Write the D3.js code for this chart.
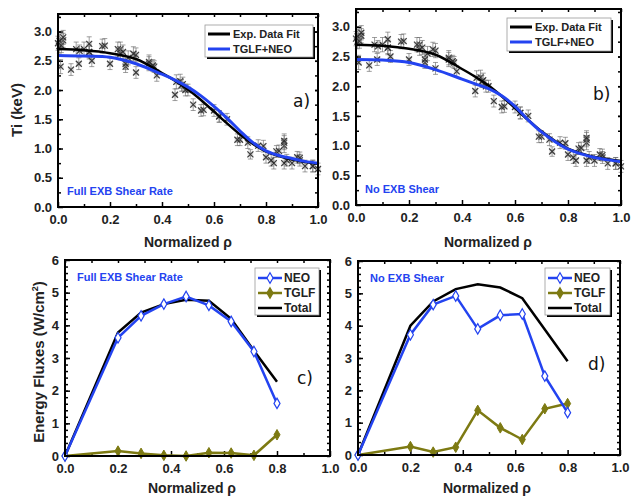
<!DOCTYPE html>
<html><head><meta charset="utf-8">
<script src="https://cdn.jsdelivr.net/npm/d3@7"></script>
<style>body{margin:0;background:#fff}svg{display:block}</style>
</head><body>
<svg id="c" width="633" height="497"></svg>
<script>
// ---------- DATA ----------
// Ti profiles (panels a, b)
const rho = [0.0,0.005,0.01,0.02,0.05,0.07,0.08,0.10,0.12,0.13,0.17,0.20,0.24,0.25,0.26,0.27,0.30,0.30,0.35,0.37,0.38,0.45,0.47,0.48,0.50,0.52,0.55,0.60,0.62,0.65,0.70,0.73,0.74,0.77,0.80,0.82,0.83,0.84,0.87,0.87,0.87,0.88,0.90,0.92,0.93,0.95,0.98,1.0,
  0.006,0.013,0.02,0.083,0.12,0.12,0.18,0.23,0.24,0.26,0.29,0.35,0.365,0.455,0.475,0.49,0.56,0.62,0.69,0.79,0.85,0.87,0.93,0.98];
const tiExp = [2.80,2.75,2.40,2.85,2.35,2.70,2.45,2.70,2.65,2.50,2.75,2.45,2.70,2.65,2.40,2.55,2.30,2.60,2.45,2.40,2.25,1.92,2.15,2.10,2.00,1.75,1.65,1.65,1.55,1.50,1.15,1.10,0.90,1.05,0.85,0.80,0.75,0.95,1.05,1.10,0.75,0.80,0.75,0.85,0.80,0.70,0.70,0.65,
  2.84,2.76,2.90,2.67,2.79,2.65,2.76,2.70,2.62,2.45,2.62,2.48,2.42,2.14,2.08,2.00,1.66,1.55,1.15,1.04,0.96,1.13,0.84,0.70];
const tiErr = [0.12,0.12,0.12,0.12,0.1,0.12,0.1,0.12,0.12,0.1,0.12,0.1,0.12,0.12,0.1,0.12,0.1,0.12,0.12,0.1,0.1,0.1,0.12,0.12,0.1,0.1,0.1,0.1,0.1,0.1,0.1,0.1,0.08,0.1,0.1,0.1,0.1,0.1,0.12,0.12,0.1,0.1,0.1,0.1,0.1,0.1,0.1,0.1,
  0.12,0.12,0.12,0.1,0.12,0.1,0.12,0.12,0.1,0.1,0.12,0.12,0.1,0.12,0.1,0.1,0.1,0.1,0.1,0.1,0.1,0.12,0.1,0.1];
const fitRho = [0,0.1,0.2,0.3,0.4,0.45,0.5,0.55,0.6,0.65,0.7,0.75,0.8,0.85,0.9,0.95,1.0];
const expFit = [2.70,2.68,2.63,2.53,2.29,2.16,2.01,1.83,1.63,1.43,1.24,1.08,0.95,0.87,0.81,0.77,0.74];
const tglfNeoFull = [2.59,2.58,2.56,2.45,2.27,2.17,2.05,1.90,1.72,1.52,1.30,1.10,0.96,0.88,0.83,0.78,0.75];
const tglfNeoNoShear = [2.45,2.44,2.40,2.28,2.12,2.04,1.96,1.84,1.66,1.43,1.23,1.07,0.94,0.86,0.80,0.76,0.73];
// Energy fluxes (panels c, d)
const fluxRho = [0.0,0.2,0.287,0.373,0.457,0.543,0.627,0.713,0.8];
const neoFull = [0,3.62,4.29,4.65,4.88,4.61,4.12,3.20,1.61];
const tglfFull = [0,0.15,0.08,0.02,0.0,0.10,0.09,0.02,0.65];
const totalFull = [0,3.78,4.39,4.65,4.78,4.75,4.20,3.22,2.27];
const neoNo = [0,3.72,4.65,4.92,3.90,4.32,4.36,2.44,1.31];
const tglfNo = [0,0.26,0.09,0.24,1.38,0.84,0.48,1.43,1.59];
const totalNo = [0,4.00,4.75,5.13,5.28,5.18,4.85,3.88,2.90];
const xTicks = [0,0.2,0.4,0.6,0.8,1.0];
const tiTicks = [0,0.5,1.0,1.5,2.0,2.5,3.0];
const fluxTicks = [0,1,2,3,4,5,6];

// ---------- DRAW ----------
const svg = d3.select("#c");
const FONT = "'Liberation Sans', Arial, sans-serif";
const BLUE = "#2343f0", OLIVE = "#7d7a12";

function panel(box, yMax, yTickVals, yFmt, yMinor){
  const x = d3.scaleLinear().domain([0,1]).range([box.l, box.r]);
  const y = d3.scaleLinear().domain([0,yMax]).range([box.b, box.t]);
  const g = svg.append("g");
  const xMinor = d3.range(0.1,1,0.2);
  const yMin = d3.range(yMinor, yMax, yMinor);
  g.append("g").attr("transform",`translate(0,${box.b})`).call(d3.axisBottom(x).tickValues(xMinor).tickSize(-3).tickFormat(""));
  g.append("g").attr("transform",`translate(0,${box.t})`).call(d3.axisTop(x).tickValues(xMinor.concat(xTicks)).tickSize(-3).tickFormat(""));
  g.append("g").attr("transform",`translate(${box.l},0)`).call(d3.axisLeft(y).tickValues(yMin).tickSize(-3).tickFormat(""));
  g.append("g").attr("transform",`translate(${box.r},0)`).call(d3.axisRight(y).tickValues(yMin.concat(yTickVals)).tickSize(-3).tickFormat(""));
  g.append("g").attr("transform",`translate(0,${box.b})`).call(d3.axisBottom(x).tickValues(xTicks).tickSize(-5).tickPadding(8).tickFormat(d3.format(".1f")));
  g.append("g").attr("transform",`translate(${box.l},0)`).call(d3.axisLeft(y).tickValues(yTickVals).tickSize(-5).tickPadding(6).tickFormat(yFmt));
  g.selectAll(".domain").remove();
  g.selectAll(".tick line").attr("stroke","#000").attr("stroke-width",1.5);
  g.selectAll(".tick text").attr("font-family",FONT).attr("font-size",13).attr("font-weight","bold").attr("fill","#222");
  return {x,y,g};
}
function frame(box){
  svg.append("rect").attr("x",box.l).attr("y",box.t).attr("width",box.r-box.l).attr("height",box.b-box.t)
    .attr("fill","none").attr("stroke","#000").attr("stroke-width",2);
}
function text(x,y,s,opt={}){
  const t = svg.append("text").attr("x",x).attr("y",y).text(s)
    .attr("font-family",opt.family||FONT).attr("font-size",opt.size||13)
    .attr("font-weight",opt.weight||"bold").attr("fill",opt.fill||"#222")
    .attr("text-anchor",opt.anchor||"start");
  if(opt.rotate) t.attr("transform",`rotate(-90,${x},${y})`);
  return t;
}

const boxes = [
  {l:58,r:318,t:14,b:207},
  {l:356,r:621,t:9,b:205},
  {l:65,r:330,t:260,b:456},
  {l:358,r:620,t:261,b:455}
];

// ----- Ti panels -----
[[boxes[0],tglfNeoFull,"Full EXB Shear Rate","a)",{l:205,t:25,w:108,h:32},{x:293,y:107}],
 [boxes[1],tglfNeoNoShear,"No EXB Shear","b)",{l:507,t:18,w:104,h:33},{x:593,y:100}]].forEach(([box,model,lab,pl,lg,pp])=>{
  const {x,y,g} = panel(box,3.3,tiTicks,d3.format(".1f"),0.25);
  const pts = g.append("g").attr("fill","none");
  rho.forEach((r,i)=>{
    const cx=x(r), cy=y(tiExp[i]), y1=y(tiExp[i]+tiErr[i]), y2=y(tiExp[i]-tiErr[i]);
    const eb = pts.append("g").attr("stroke","#666").attr("stroke-opacity",0.7).attr("stroke-width",0.9);
    eb.append("line").attr("x1",cx).attr("x2",cx).attr("y1",y1).attr("y2",y2);
    eb.append("line").attr("x1",cx-2.5).attr("x2",cx+2.5).attr("y1",y1).attr("y2",y1);
    eb.append("line").attr("x1",cx-2.5).attr("x2",cx+2.5).attr("y1",y2).attr("y2",y2);
    pts.append("rect").attr("x",cx-2.8).attr("y",cy-2.8).attr("width",5.6).attr("height",5.6).attr("fill","#999").attr("fill-opacity",0.35).attr("stroke","none");
    pts.append("path").attr("d",`M${cx-3},${cy-3}L${cx+3},${cy+3}M${cx-3},${cy+3}L${cx+3},${cy-3}`).attr("stroke","#222").attr("stroke-opacity",0.85).attr("stroke-width",1.2);
  });
  const line = d3.line().x((d,i)=>x(fitRho[i])).y(d=>y(d)).curve(d3.curveCatmullRom);
  g.append("path").datum(expFit).attr("d",line).attr("fill","none").attr("stroke","#000").attr("stroke-width",2.5);
  g.append("path").datum(model).attr("d",line).attr("fill","none").attr("stroke",BLUE).attr("stroke-width",3);
  frame(box);
  svg.append("rect").attr("x",lg.l+2).attr("y",lg.t+2).attr("width",lg.w).attr("height",lg.h).attr("fill","#000");
  svg.append("rect").attr("x",lg.l).attr("y",lg.t).attr("width",lg.w).attr("height",lg.h).attr("fill","#fff").attr("stroke","#999").attr("stroke-width",0.8);
  [["Exp. Data Fit","#000"],["TGLF+NEO",BLUE]].forEach(([s,c],k)=>{
    const yy = lg.t+9+k*15;
    svg.append("line").attr("x1",lg.l+3).attr("x2",lg.l+25).attr("y1",yy).attr("y2",yy).attr("stroke",c).attr("stroke-width",3);
    text(lg.l+28,yy+4,s,{size:11});
  });
  text(box.l+9,box.b-12,lab,{size:11,fill:BLUE});
  text(pp.x,pp.y,pl,{size:17,weight:"normal",family:"'DejaVu Sans', sans-serif",fill:"#111"});
});
text(22,110,"Ti (keV)",{size:15,rotate:true,anchor:"middle"});
text(188,247,"Normalized ρ",{size:14,anchor:"middle"});
text(488,247,"Normalized ρ",{size:14,anchor:"middle"});

// ----- Flux panels -----
[[boxes[2],neoFull,tglfFull,totalFull,"Full EXB Shear Rate","c)",{l:255,t:268,w:64,h:47},{x:297,y:384}],
 [boxes[3],neoNo,tglfNo,totalNo,"No EXB Shear","d)",{l:545,t:268,w:65,h:47},{x:588,y:370}]].forEach(([box,neo,tglf,tot,lab,pl,lg,pp])=>{
  const {x,y,g} = panel(box,6,fluxTicks,d3.format("d"),0.2);
  const line = d3.line().x((d,i)=>x(fluxRho[i])).y(d=>y(d));
  g.append("path").datum(tot).attr("d",line).attr("fill","none").attr("stroke","#000").attr("stroke-width",2.5);
  g.append("path").datum(tglf).attr("d",line).attr("fill","none").attr("stroke",OLIVE).attr("stroke-width",2.5);
  g.append("path").datum(neo).attr("d",line).attr("fill","none").attr("stroke",BLUE).attr("stroke-width",2.5);
  const dia = d3.symbol().type(d3.symbolDiamond).size(32);
  tglf.forEach((v,i)=>g.append("path").attr("d",dia).attr("transform",`translate(${x(fluxRho[i])},${y(v)})`).attr("fill",OLIVE).attr("stroke",OLIVE));
  neo.forEach((v,i)=>g.append("path").attr("d",dia).attr("transform",`translate(${x(fluxRho[i])},${y(v)})`).attr("fill","#fff").attr("stroke",BLUE).attr("stroke-width",1.2));
  frame(box);
  svg.append("rect").attr("x",lg.l+2).attr("y",lg.t+2).attr("width",lg.w).attr("height",lg.h).attr("fill","#000");
  svg.append("rect").attr("x",lg.l).attr("y",lg.t).attr("width",lg.w).attr("height",lg.h).attr("fill","#fff").attr("stroke","#999").attr("stroke-width",0.8);
  [["NEO",BLUE,"open"],["TGLF",OLIVE,"fill"],["Total","#000",null]].forEach(([s,c,m],k)=>{
    const yy = lg.t+10+k*15;
    svg.append("line").attr("x1",lg.l+3).attr("x2",lg.l+27).attr("y1",yy).attr("y2",yy).attr("stroke",c).attr("stroke-width",2.5);
    if(m) svg.append("path").attr("d",dia).attr("transform",`translate(${lg.l+15},${yy})`).attr("fill",m==="open"?"#fff":c).attr("stroke",c).attr("stroke-width",1.2);
    text(lg.l+29,yy+4,s,{size:12});
  });
  text(box.l+12,box.t+21,lab,{size:11,fill:BLUE});
  text(pp.x,pp.y,pl,{size:17,weight:"normal",family:"'DejaVu Sans', sans-serif",fill:"#111"});
});
const ef = text(44,362,"",{size:15,rotate:true,anchor:"middle"});
ef.append("tspan").text("Energy Fluxes (W/cm");
ef.append("tspan").text("2").attr("font-size",9).attr("dy",-6);
ef.append("tspan").text(")").attr("dy",6);
text(192,493,"Normalized ρ",{size:14,anchor:"middle"});
text(487,493,"Normalized ρ",{size:14,anchor:"middle"});
</script>
</body></html>
